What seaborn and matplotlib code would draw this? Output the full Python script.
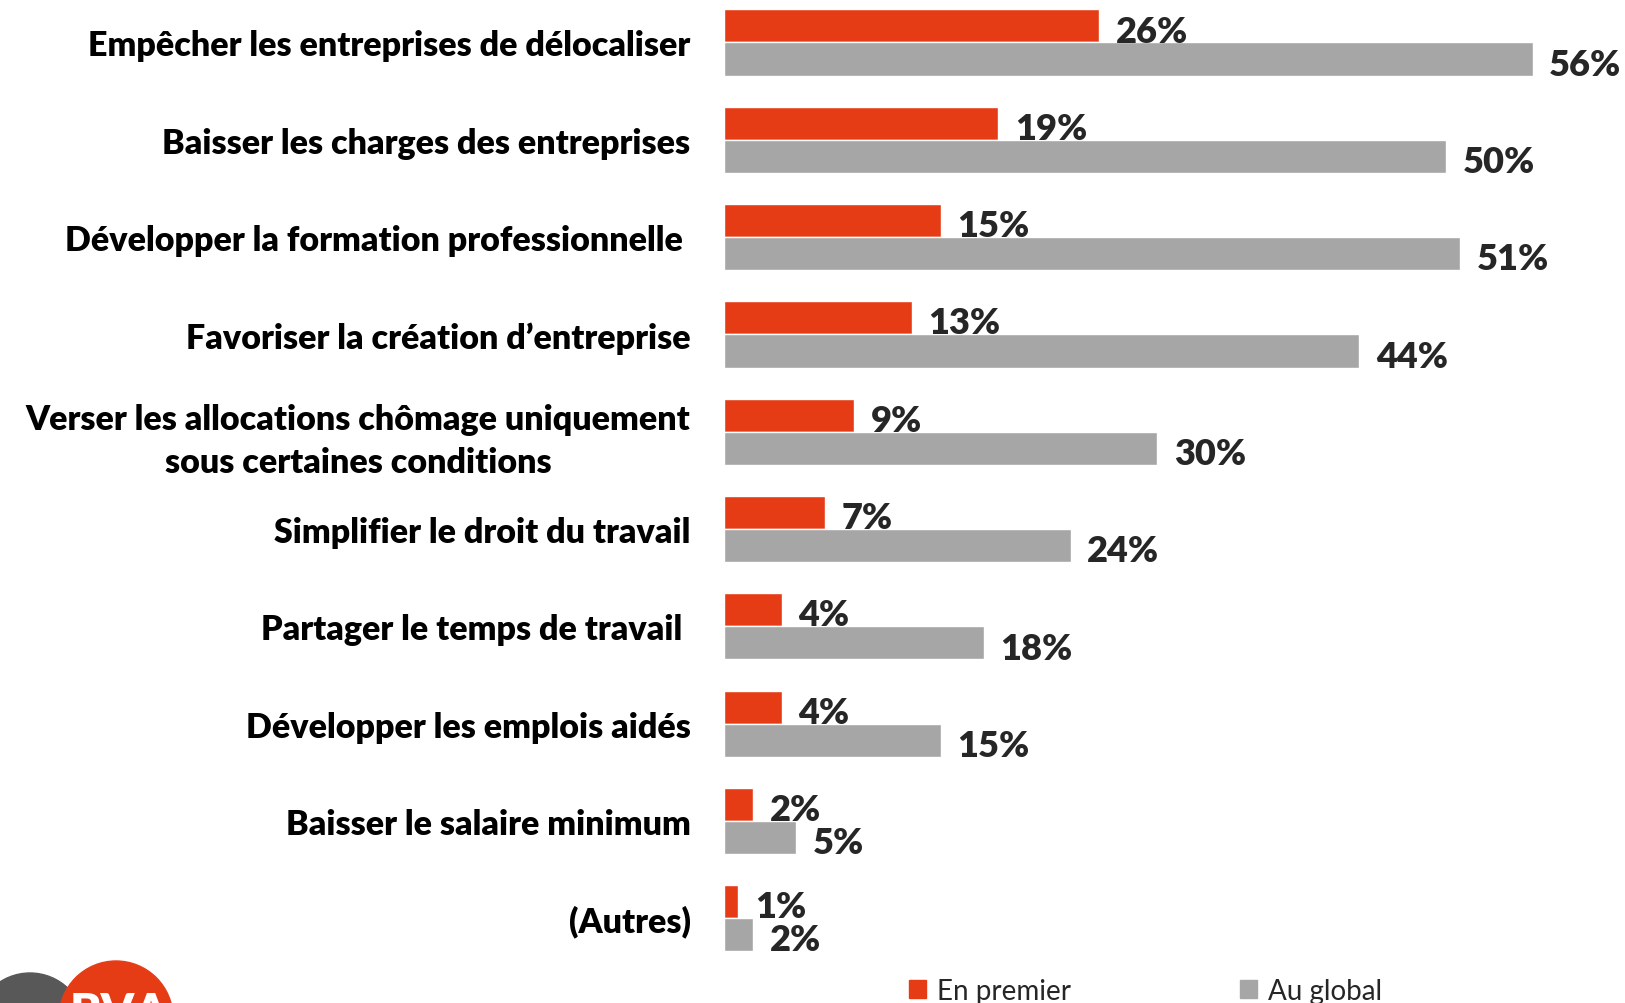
import pandas as pd
import seaborn as sns
import matplotlib.pyplot as plt
from matplotlib.patches import Circle, Patch

categories = [
    "Empêcher les entreprises de délocaliser",
    "Baisser les charges des entreprises",
    "Développer la formation professionnelle ",
    "Favoriser la création d’entreprise",
    "Verser les allocations chômage uniquement\nsous certaines conditions",
    "Simplifier le droit du travail",
    "Partager le temps de travail ",
    "Développer les emplois aidés",
    "Baisser le salaire minimum",
    "(Autres)",
]
en_premier = [26, 19, 15, 13, 9, 7, 4, 4, 2, 1]
au_global = [56, 50, 51, 44, 30, 24, 18, 15, 5, 2]
series_names = ["En premier", "Au global"]

red = "#E53C16"
grey = "#A6A6A6"

df = pd.DataFrame({
    "cat": categories * 2,
    "val": en_premier + au_global,
    "serie": [series_names[0]] * len(categories) + [series_names[1]] * len(categories),
})

sns.set_style("white")
plt.rcParams["font.family"] = ["Lato", "DejaVu Sans"]

fig = plt.figure(figsize=(16.25, 10.04), dpi=100)
ax = fig.add_axes([0.4455, 0.0, 0.5545, 1.0])

sns.barplot(data=df, y="cat", x="val", hue="serie", orient="h",
            palette=[red, grey], width=0.68, gap=0, dodge=True,
            saturation=1, ax=ax, legend=False)

ax.set_xlim(0, 62.4)
ax.set_ylim(9.87, -0.447)
ax.set_xlabel("")
ax.set_ylabel("")
ax.set_xticks([])
for s in ax.spines.values():
    s.set_visible(False)
ax.tick_params(axis="y", length=0, pad=24)
ax.set_yticks(range(len(categories)))
ax.set_yticklabels(categories, fontsize=24.5, fontweight="heavy", ha="right",
                   multialignment="center", linespacing=1.45, color="black")

for i, (a, b) in enumerate(zip(en_premier, au_global)):
    ax.annotate(f"{a}%", (a, i - 0.01), xytext=(12, 0), textcoords="offset points",
                fontsize=26, fontweight="heavy", va="baseline", ha="left")
    ax.annotate(f"{b}%", (b, i + 0.33), xytext=(12, 0), textcoords="offset points",
                fontsize=26, fontweight="heavy", va="baseline", ha="left")

handles = [Patch(color=red), Patch(color=grey)]
fig.legend(handles, series_names, loc="lower left", bbox_to_anchor=(0.544, -0.026),
           ncol=2, frameon=False, fontsize=20, handlelength=0.6, handleheight=0.6,
           handletextpad=0.4, columnspacing=6.1)

# logo partiel en bas à gauche
fig.patches.append(Circle((30, -25), 55, transform=None, color="#585858", zorder=1))
fig.patches.append(Circle((116, -15), 57, transform=None, color=red, zorder=2))
fig.text(70, 12, "BVA", transform=None, color="white", fontsize=34, fontweight="heavy",
         va="top", ha="left", zorder=3)

fig.savefig("out.png", dpi=100)
